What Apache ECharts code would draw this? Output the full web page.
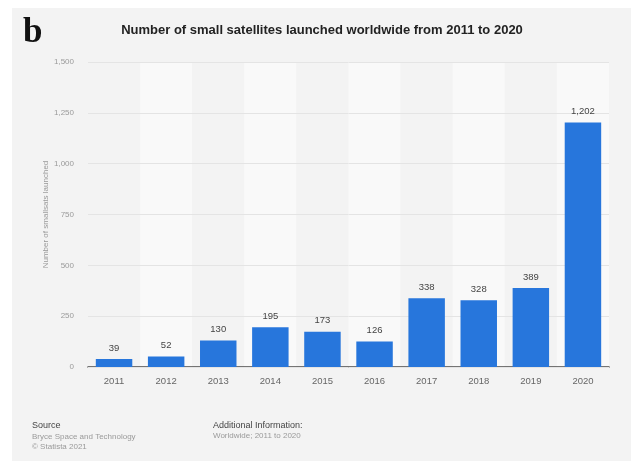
<!DOCTYPE html>
<html>
<head>
<meta charset="utf-8">
<script src="https://cdn.jsdelivr.net/npm/echarts@6/dist/echarts.min.js"></script>
<style>
html,body{margin:0;padding:0;background:#ffffff;}
#card{position:absolute;left:12px;top:8px;width:619px;height:453px;background:#f3f3f3;}
#chart{position:absolute;left:0;top:0;width:632px;height:462px;}
</style>
</head>
<body>
<div id="card"></div>
<div id="chart"></div>
<script>
const years = ['2011','2012','2013','2014','2015','2016','2017','2018','2019','2020'];
const launched = [39, 52, 130, 195, 173, 126, 338, 328, 389, 1202];
const yTicks = [0, 250, 500, 750, 1000, 1250, 1500];

const fmt = v => String(v).replace(/\B(?=(\d{3})+(?!\d))/g, ',');
const font = 'Liberation Sans, Arial, sans-serif';

const chart = echarts.init(document.getElementById('chart'), null, {renderer: 'canvas'});
chart.setOption({
  backgroundColor: 'transparent',
  animation: false,
  textStyle: {fontFamily: font},
  title: [
    {text: 'Number of small satellites launched worldwide from 2011 to 2020', left: 322, top: 24, textAlign: 'center', padding: 0,
     textStyle: {fontFamily: font, fontSize: 13, fontWeight: 'bold', color: '#222'}},
    {text: 'b', left: 23, top: 15, padding: 0, textStyle: {fontFamily: 'Liberation Serif, Times New Roman, serif', fontSize: 35, fontWeight: 'bold', color: '#111'}},
    {text: 'Source', left: 32, top: 421, padding: 0, textStyle: {fontFamily: font, fontSize: 9, fontWeight: 'normal', color: '#444'}},
    {text: 'Bryce Space and Technology\n© Statista 2021', left: 32, top: 432, padding: 0, textStyle: {fontFamily: font, fontSize: 8, fontWeight: 'normal', color: '#9a9a9a', lineHeight: 10}},
    {text: 'Additional Information:', left: 213, top: 421, padding: 0, textStyle: {fontFamily: font, fontSize: 9, fontWeight: 'normal', color: '#444'}},
    {text: 'Worldwide; 2011 to 2020', left: 213, top: 432, padding: 0, textStyle: {fontFamily: font, fontSize: 8, fontWeight: 'normal', color: '#9a9a9a'}}
  ],
  grid: {left: 88, right: 23, top: 62, bottom: 95},
  xAxis: {
    type: 'category',
    data: years,
    z: 0,
    axisTick: {show: false},
    axisLine: {lineStyle: {color: '#4a4a4a', width: 1.5}},
    axisLabel: {color: '#666', fontSize: 9.5, margin: 9},
    splitArea: {show: true, areaStyle: {color: ['#f3f3f3', '#f9f9f9']}}
  },
  yAxis: {
    type: 'value',
    z: 1,
    min: yTicks[0],
    max: yTicks[yTicks.length - 1],
    interval: yTicks[1] - yTicks[0],
    name: 'Number of smallsats launched',
    nameLocation: 'middle',
    nameRotate: 90,
    nameGap: 37,
    nameMoveOverlap: false,
    nameTextStyle: {color: '#999', fontSize: 8, padding: [0, 0, 0, 0], lineHeight: 10},
    axisLine: {show: false},
    axisTick: {show: false},
    axisLabel: {color: '#9a9a9a', fontSize: 8, margin: 14, formatter: v => fmt(v)},
    splitLine: {lineStyle: {color: '#e4e4e4', width: 1}}
  },
  series: [{
    type: 'bar',
    data: launched,
    barCategoryGap: '30%',
    itemStyle: {color: '#2776dc'},
    label: {show: true, position: 'top', distance: 6, color: '#444', fontSize: 9.5, formatter: p => fmt(p.value)}
  }]
});
</script>
</body>
</html>
